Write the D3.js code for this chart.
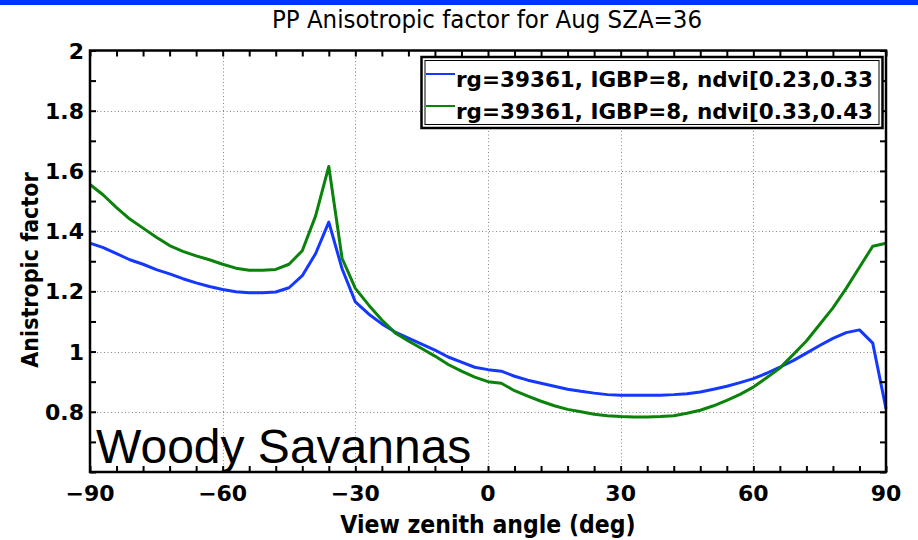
<!DOCTYPE html>
<html>
<head>
<meta charset="utf-8">
<script src="https://cdn.jsdelivr.net/npm/d3@7"></script>
<style>
  body { margin: 0; background: #fff; }
  svg { display: block; }
</style>
</head>
<body>
<script>
//chart data: view zenith angles and anisotropic factors for the two ndvi bins
var angles = d3.range(-90, 91, 3);

var ndviLow = [1.36, 1.345, 1.325, 1.305, 1.29, 1.272, 1.258, 1.242, 1.228, 1.216,
    1.206, 1.199, 1.195, 1.195, 1.198, 1.212, 1.252, 1.325, 1.43, 1.275,
    1.165, 1.125, 1.092, 1.065, 1.045, 1.025, 1.005, 0.982, 0.965, 0.948,
    0.94, 0.935, 0.918, 0.905, 0.895, 0.885, 0.875, 0.868, 0.862, 0.857,
    0.855, 0.855, 0.855, 0.855, 0.857, 0.86, 0.866, 0.875, 0.885, 0.897,
    0.91, 0.928, 0.948, 0.97, 0.995, 1.02, 1.044, 1.063, 1.072, 1.028,
    0.81];

var ndviHigh = [1.555, 1.52, 1.478, 1.44, 1.41, 1.38, 1.352, 1.333, 1.318, 1.305,
    1.29, 1.277, 1.27, 1.27, 1.273, 1.29, 1.335, 1.45, 1.615, 1.31,
    1.21, 1.155, 1.105, 1.062, 1.035, 1.01, 0.985, 0.957, 0.935, 0.915,
    0.9, 0.895, 0.87, 0.852, 0.835, 0.82, 0.808, 0.8, 0.792, 0.787,
    0.784, 0.783, 0.783, 0.784, 0.787, 0.795, 0.805, 0.82, 0.838, 0.858,
    0.882, 0.913, 0.945, 0.99, 1.035, 1.09, 1.145, 1.21, 1.28, 1.35,
    1.36];

var seriesNames = ["rg=39361, IGBP=8, ndvi[0.23,0.33", "rg=39361, IGBP=8, ndvi[0.33,0.43"];
var seriesColors = ["#1438ff", "#0b820b"];

var xTickLabels = [-90, -60, -30, 0, 30, 60, 90];
var yTickLabels = [0.8, 1, 1.2, 1.4, 1.6, 1.8, 2];

//frame
var width = 918,
    height = 540;
var plotLeft = 90, plotRight = 886, plotTop = 50.5, plotBottom = 472;

var svg = d3.select('body')
    .append('svg')
    .attr('width', width)
    .attr('height', height);

//blue strip along the top
svg.append('rect')
    .attr('x', 0).attr('y', 0)
    .attr('width', width).attr('height', 5)
    .attr('fill', '#0033ff');

var x = d3.scaleLinear().domain([-90, 90]).range([plotLeft, plotRight]);
var y = d3.scaleLinear().domain([0.6, 2]).range([plotBottom, plotTop]);

//dotted grid
var grid = svg.append('g').attr('stroke', '#888').attr('stroke-width', 1)
    .attr('stroke-dasharray', '1,2.5');
grid.selectAll('.vg')
    .data([-60, -30, 0, 30, 60])
    .enter().append('line')
    .attr('x1', function(d){ return Math.round(x(d)) + 0.5; })
    .attr('x2', function(d){ return Math.round(x(d)) + 0.5; })
    .attr('y1', plotTop).attr('y2', plotBottom);
grid.selectAll('.hg')
    .data([0.8, 1, 1.2, 1.4, 1.6, 1.8])
    .enter().append('line')
    .attr('y1', function(d){ return Math.round(y(d)) + 0.5; })
    .attr('y2', function(d){ return Math.round(y(d)) + 0.5; })
    .attr('x1', plotLeft).attr('x2', plotRight);

//curves
var line = d3.line()
    .x(function(d, i){ return x(angles[i]); })
    .y(function(d){ return y(d); });

[ndviLow, ndviHigh].forEach(function(vals, i){
    svg.append('path')
        .datum(vals)
        .attr('fill', 'none')
        .attr('stroke', seriesColors[i])
        .attr('stroke-width', 3)
        .attr('stroke-linejoin', 'round')
        .attr('d', line);
});

//surface type label
svg.append('text')
    .attr('x', 96).attr('y', 463)
    .attr('font-family', '"Liberation Sans", Arial, sans-serif')
    .attr('font-size', 48)
    .attr('fill', '#000')
    .text('Woody Savannas');

//axes with inward ticks on all four sides
var xMinor = d3.range(-90, 91, 6);
var yMinor = d3.range(6, 21).map(function(d){ return d / 10; });

function styleAxis(g){
    g.select('.domain').remove();
    g.selectAll('.tick line').attr('stroke', '#000').attr('stroke-width', 2);
}

svg.append('g').attr('transform', 'translate(0,' + plotBottom + ')')
    .call(d3.axisBottom(x).tickValues(xMinor).tickSize(-6).tickFormat(''))
    .call(styleAxis);
svg.append('g').attr('transform', 'translate(0,' + plotTop + ')')
    .call(d3.axisTop(x).tickValues(xMinor).tickSize(-6).tickFormat(''))
    .call(styleAxis);
svg.append('g').attr('transform', 'translate(' + plotLeft + ',0)')
    .call(d3.axisLeft(y).tickValues(yMinor).tickSize(-6).tickFormat(''))
    .call(styleAxis);
svg.append('g').attr('transform', 'translate(' + plotRight + ',0)')
    .call(d3.axisRight(y).tickValues(yMinor).tickSize(-6).tickFormat(''))
    .call(styleAxis);

svg.append('rect')
    .attr('x', plotLeft).attr('y', plotTop)
    .attr('width', plotRight - plotLeft).attr('height', plotBottom - plotTop)
    .attr('fill', 'none')
    .attr('stroke', '#000')
    .attr('stroke-width', 2.5);

//tick labels
var boldFont = '"DejaVu Sans", sans-serif';
var condFont = '"DejaVu Sans Condensed", "DejaVu Sans", sans-serif';
svg.append('g').selectAll('text')
    .data(xTickLabels)
    .enter().append('text')
    .attr('x', function(d){ return x(d); })
    .attr('y', 501)
    .attr('text-anchor', 'middle')
    .attr('font-family', boldFont)
    .attr('font-weight', 'bold')
    .attr('font-size', 22)
    .text(function(d){ return d < 0 ? '\u2212' + Math.abs(d) : String(d); });

svg.append('g').selectAll('text')
    .data(yTickLabels)
    .enter().append('text')
    .attr('x', 84)
    .attr('y', function(d){ return y(d) + 8; })
    .attr('text-anchor', 'end')
    .attr('font-family', boldFont)
    .attr('font-weight', 'bold')
    .attr('font-size', 22)
    .text(function(d){ return String(d); });

//titles
svg.append('text')
    .attr('x', 487).attr('y', 28)
    .attr('text-anchor', 'middle')
    .attr('font-family', condFont)
    .attr('font-stretch', 'condensed')
    .attr('font-size', 25.5)
    .text('PP Anisotropic factor for Aug SZA=36');

svg.append('text')
    .attr('x', 488).attr('y', 533)
    .attr('text-anchor', 'middle')
    .attr('font-family', condFont)
    .attr('font-stretch', 'condensed')
    .attr('font-weight', 'bold')
    .attr('font-size', 24.5)
    .text('View zenith angle (deg)');

svg.append('text')
    .attr('transform', 'translate(38,' + 270 + ') rotate(-90)')
    .attr('text-anchor', 'middle')
    .attr('font-family', condFont)
    .attr('font-stretch', 'condensed')
    .attr('font-weight', 'bold')
    .attr('font-size', 23)
    .text('Anistropic factor');

//legend
var legend = svg.append('g');
legend.append('rect')
    .attr('x', 421.5).attr('y', 57)
    .attr('width', 461).attr('height', 71)
    .attr('fill', '#fff')
    .attr('stroke', '#000')
    .attr('stroke-width', 2.5);
legend.append('rect')
    .attr('x', 425).attr('y', 60.5)
    .attr('width', 454).attr('height', 64)
    .attr('fill', 'none')
    .attr('stroke', '#000')
    .attr('stroke-width', 1);

seriesNames.forEach(function(name, i){
    var rowY = 87 + i * 32;
    legend.append('line')
        .attr('x1', 426).attr('x2', 455)
        .attr('y1', rowY - 13).attr('y2', rowY - 13)
        .attr('stroke', seriesColors[i])
        .attr('stroke-width', 2);
    legend.append('text')
        .attr('x', 456).attr('y', rowY)
        .attr('font-family', boldFont)
        .attr('font-weight', 'bold')
        .attr('font-size', 21.5)
        .text(name);
});
</script>
</body>
</html>
